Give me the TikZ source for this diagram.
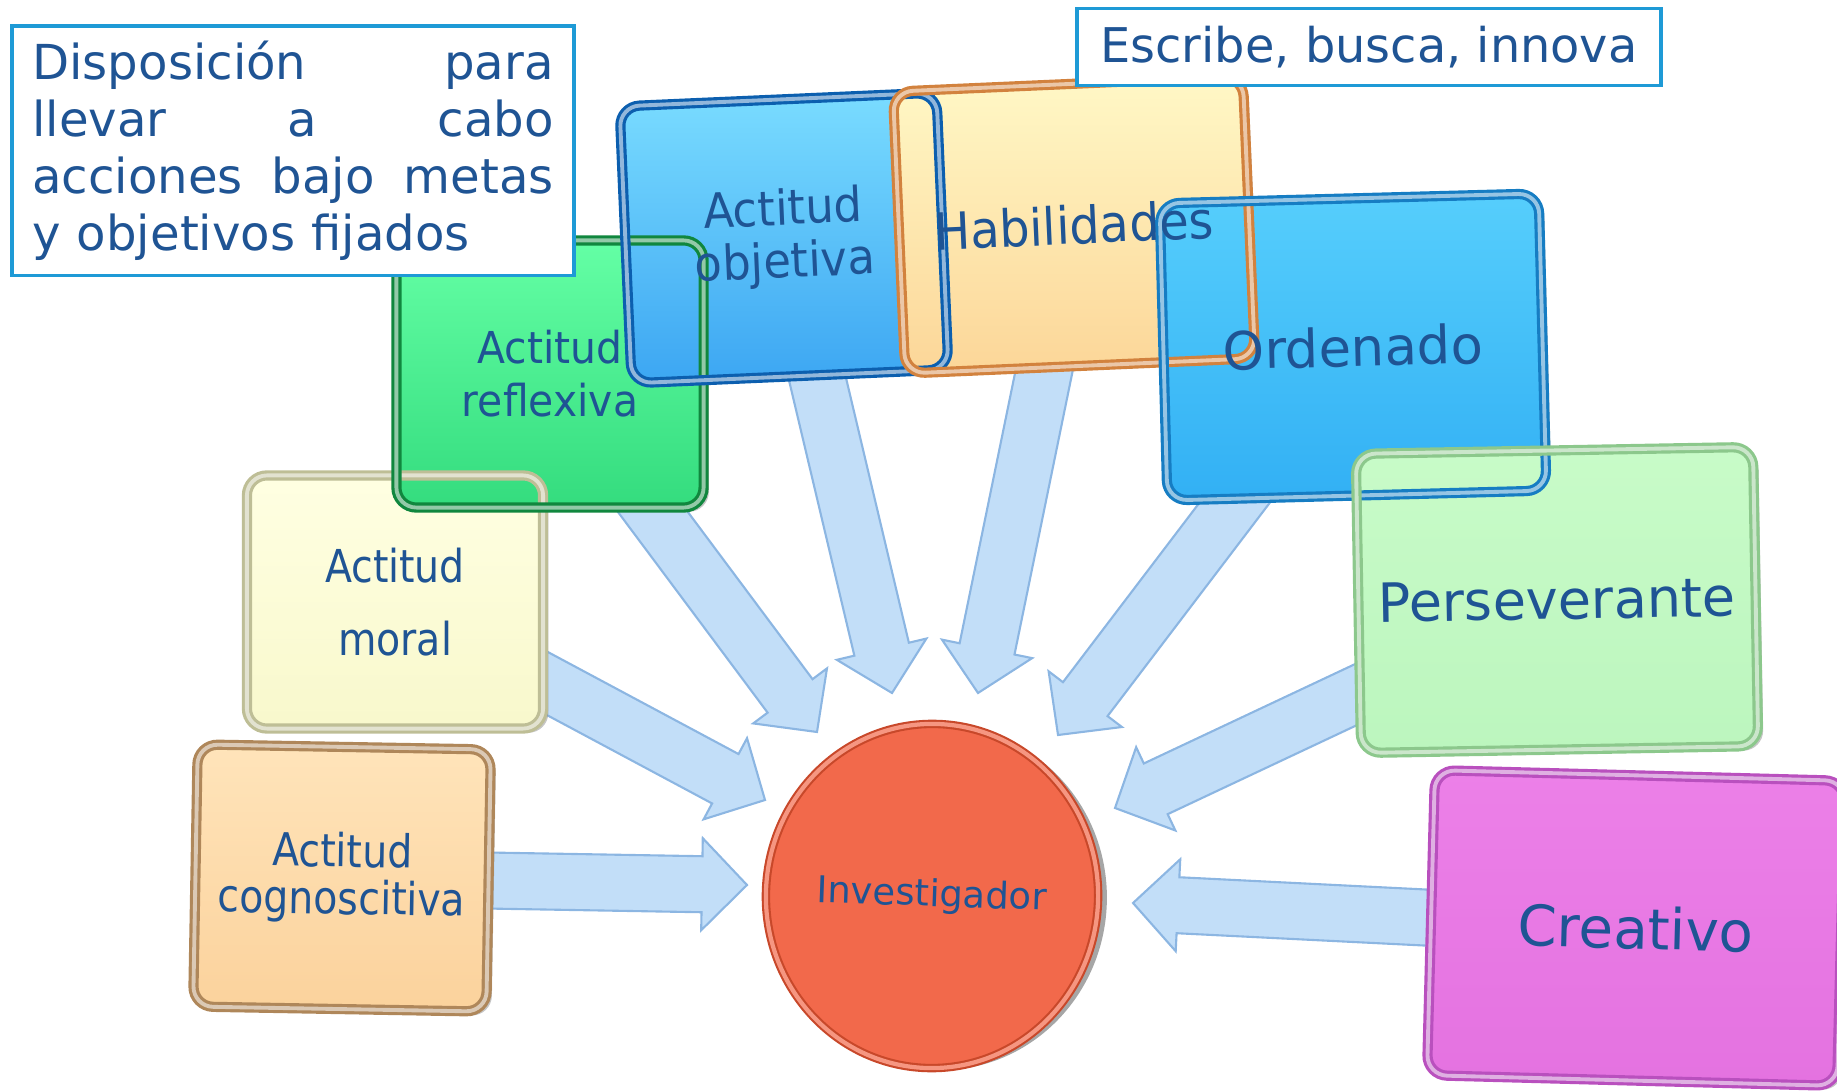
\documentclass[tikz,border=0pt]{standalone}
\usepackage{fontspec}
\setmainfont{DejaVu Sans}
\newfontfamily\narrowfont{DejaVu Sans}[FakeStretch=0.87]
\newfontfamily\slimfont{DejaVu Sans}[FakeStretch=0.93]
\usetikzlibrary{calc,shapes.geometric,shadows}
\setlength{\parindent}{0pt}

\definecolor{textblue}{RGB}{31,84,148}
\definecolor{noteblue}{RGB}{30,154,214}
\definecolor{arrowfill}{RGB}{194,222,248}
\definecolor{arrowedge}{RGB}{140,182,226}
\definecolor{cogtop}{RGB}{255,228,186}
\definecolor{cogbot}{RGB}{251,210,156}
\definecolor{cogframe}{RGB}{175,135,90}
\definecolor{moraltop}{RGB}{255,255,226}
\definecolor{moralbot}{RGB}{248,248,204}
\definecolor{moralframe}{RGB}{190,190,150}
\definecolor{refltop}{RGB}{100,255,165}
\definecolor{reflbot}{RGB}{52,220,126}
\definecolor{reflframe}{RGB}{16,135,62}
\definecolor{objtop}{RGB}{122,220,255}
\definecolor{objbot}{RGB}{60,166,242}
\definecolor{objframe}{RGB}{12,95,175}
\definecolor{habtop}{RGB}{255,248,198}
\definecolor{habbot}{RGB}{252,214,152}
\definecolor{habframe}{RGB}{210,130,62}
\definecolor{ordtop}{RGB}{86,206,252}
\definecolor{ordbot}{RGB}{50,176,244}
\definecolor{ordframe}{RGB}{22,125,195}
\definecolor{pertop}{RGB}{200,251,200}
\definecolor{perbot}{RGB}{188,246,190}
\definecolor{perframe}{RGB}{140,200,140}
\definecolor{cretop}{RGB}{236,128,232}
\definecolor{crebot}{RGB}{228,114,224}
\definecolor{creframe}{RGB}{185,80,190}
\definecolor{circfill}{RGB}{242,105,75}
\definecolor{circedge}{RGB}{200,72,42}

\pgfdeclarelayer{arrows}
\pgfdeclarelayer{frames}
\pgfdeclarelayer{labels}
\pgfsetlayers{arrows,main,frames,labels}

\tikzset{
  boxfill/.style={rectangle, rounded corners=0.2cm, inner sep=0pt,
    drop shadow={shadow xshift=1.5pt, shadow yshift=-1.2pt, opacity=0.45}},
  boxframe/.style={rectangle, rounded corners=0.2cm, inner sep=0pt, draw=#1,
    line width=0.9pt, double=#1!45!white, double distance=1.1pt},
  boxlabel/.style={inner sep=0pt, align=center, text=textblue},
  arrowbody/.style={fill=arrowfill, draw=arrowedge, line width=0.6pt, line join=miter},
  notebox/.style={rectangle, draw=noteblue, line width=1.1pt, fill=white, inner sep=0pt, text=textblue},
  cogfill/.style={top color=cogtop, bottom color=cogbot},
  moralfill/.style={top color=moraltop, bottom color=moralbot},
  reflfill/.style={top color=refltop, bottom color=reflbot},
  objfill/.style={top color=objtop, bottom color=objbot},
  habfill/.style={top color=habtop, bottom color=habbot},
  ordfill/.style={top color=ordtop, bottom color=ordbot},
  perfill/.style={top color=pertop, bottom color=perbot},
  crefill/.style={top color=cretop, bottom color=crebot},
}

% name, position, width, height, angle, fill, frame, font, text
\newcommand{\attbox}[9]{%
  \node[boxfill, #6, minimum width=#3, minimum height=#4, rotate=#5] (#1) at #2 {};
  \begin{pgfonlayer}{frames}
    \node[boxframe=#7, minimum width=#3, minimum height=#4, rotate=#5] (#1-frame) at (#1.center) {};
  \end{pgfonlayer}
  \begin{pgfonlayer}{labels}
    \node[boxlabel, font={#8}, rotate=#5] (#1-label) at (#1.center) {#9};
  \end{pgfonlayer}
}

% block arrow from a box to a tip
\newcommand{\inarrow}[2]{%
  \path ($(#2)!0.45cm!(#1)$) coordinate (#2-base);
  \draw[arrowbody] ($(#1)!0.28cm!90:(#2)$) -- ($(#2-base)!0.28cm!90:(#2)$)
    -- ($(#2-base)!0.46cm!90:(#2)$) -- (#2) -- ($(#2-base)!0.46cm!-90:(#2)$)
    -- ($(#2-base)!0.28cm!-90:(#2)$) -- ($(#1)!0.28cm!-90:(#2)$) -- cycle;
}

\begin{document}
\begin{tikzpicture}[x=0.01cm, y=-0.01cm]
  \useasboundingbox (0,0) rectangle (1837,1092);

  % boxes round the centre
  \attbox{cog}{(342,878)}{2.93cm}{2.62cm}{-1}{cogfill}{cogframe}{\narrowfont\fontsize{12.9}{13.4}\selectfont}{Actitud\\cognoscitiva}
  \attbox{moral}{(395,602)}{2.96cm}{2.53cm}{0}{moralfill}{moralframe}{\narrowfont\fontsize{12.9}{20.8}\selectfont}{Actitud\\moral}
  \attbox{refl}{(550,374)}{3.07cm}{2.67cm}{0}{reflfill}{reflframe}{\slimfont\fontsize{12.5}{15.1}\selectfont}{Actitud\\reflexiva}
  \attbox{obj}{(784,238)}{3.17cm}{2.77cm}{2.5}{objfill}{objframe}{\slimfont\fontsize{13.7}{15}\selectfont}{Actitud\\objetiva}
  \attbox{hab}{(1074,225)}{3.50cm}{2.82cm}{2.5}{habfill}{habframe}{\slimfont\fontsize{14.6}{17}\selectfont}{Habilidades}
  \attbox{ord}{(1353,347)}{3.79cm}{2.97cm}{1.5}{ordfill}{ordframe}{\fontsize{15}{18}\selectfont}{Ordenado}
  \attbox{per}{(1557,600)}{3.97cm}{2.99cm}{1}{perfill}{perframe}{\fontsize{15.4}{18}\selectfont}{Perseverante}
  \attbox{cre}{(1636,928)}{4.10cm}{3.05cm}{-1.5}{crefill}{creframe}{\fontsize{16}{19}\selectfont}{Creativo}

  % centre
  \node[ellipse, inner sep=0pt, minimum width=3.32cm, minimum height=3.44cm, fill=circfill,
    draw=circedge, line width=0.6pt, double=circfill!70!white, double distance=1.2pt,
    drop shadow={shadow xshift=2.5pt, shadow yshift=-0.6pt, opacity=0.7},
    rotate=-2, text=textblue, font=\fontsize{10.5}{12}\selectfont] (inv) at (932,896) {Investigador};

  % arrow tips
  \coordinate (cog-tip) at (747,885);
  \coordinate (moral-tip) at (765,800);
  \coordinate (refl-tip) at (817,732);
  \coordinate (obj-tip) at (892,693);
  \coordinate (hab-tip) at (978,693);
  \coordinate (ord-tip) at (1058,735);
  \coordinate (per-tip) at (1115,808);
  \coordinate (cre-tip) at (1133,903);

  \begin{pgfonlayer}{arrows}
    \inarrow{cog}{cog-tip}
    \inarrow{moral}{moral-tip}
    \inarrow{refl}{refl-tip}
    \inarrow{obj}{obj-tip}
    \inarrow{hab}{hab-tip}
    \inarrow{ord}{ord-tip}
    \inarrow{per}{per-tip}
    \inarrow{cre}{cre-tip}
  \end{pgfonlayer}

  % notes
  \begin{pgfonlayer}{labels}
    \node[notebox, text width=5.21cm, inner xsep=0.2cm, minimum height=2.49cm, align=left,
      font=\fontsize{13.7}{16.2}\selectfont] (disp) at (293,151)
      {Disposición\hfill para\\llevar\hfill a\hfill cabo\\acciones\hfill bajo\hfill metas\\y objetivos fijados};
    \node[notebox, minimum width=5.83cm, minimum height=0.77cm,
      font=\fontsize{13.6}{16}\selectfont] (escr) at (1369,47) {Escribe, busca, innova};
  \end{pgfonlayer}
\end{tikzpicture}
\end{document}
